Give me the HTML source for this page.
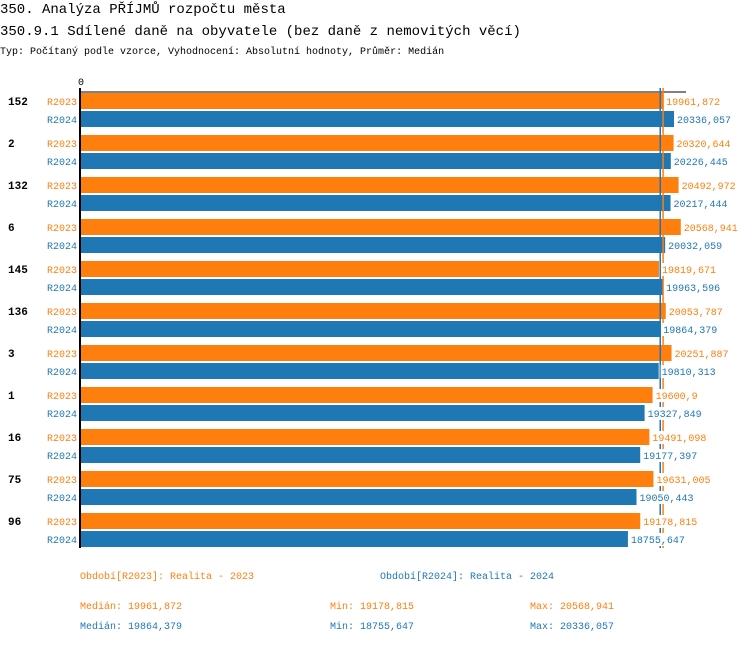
<!DOCTYPE html>
<html><head><meta charset="utf-8">
<style>
body{margin:0;background:#fff;width:750px;height:644px;overflow:hidden;font-family:"Liberation Mono",monospace;}
svg text{font-family:"Liberation Mono",monospace;}
</style></head><body>
<svg id="chart" width="750" height="644" xmlns="http://www.w3.org/2000/svg">
<text x="0" y="13" font-size="14" fill="#000">350. Analýza PŘÍJMŮ rozpočtu města</text>
<text x="0" y="35" font-size="14" fill="#000">350.9.1 Sdílené daně na obyvatele (bez daně z nemovitých věcí)</text>
<text x="0" y="54" font-size="10" fill="#000">Typ: Počítaný podle vzorce, Vyhodnocení: Absolutní hodnoty, Průměr: Medián</text>
<text x="78" y="85" font-size="10" fill="#000">0</text>
<line x1="80" y1="92" x2="686" y2="92" stroke="#000" stroke-width="1"/>
<g id="bars"></g>
<g id="medians"></g>
<g id="labels"></g>
<line x1="80" y1="88" x2="80" y2="548" stroke="#000" stroke-width="2"/>
<g font-size="10">
<text x="80" y="579" fill="#ff7f0e">Období[R2023]: Realita - 2023</text>
<text x="380" y="579" fill="#1f77b4">Období[R2024]: Realita - 2024</text>
<text x="80" y="609" fill="#ff7f0e">Medián: 19961,872</text>
<text x="330" y="609" fill="#ff7f0e">Min: 19178,815</text>
<text x="530" y="609" fill="#ff7f0e">Max: 20568,941</text>
<text x="80" y="629" fill="#1f77b4">Medián: 19864,379</text>
<text x="330" y="629" fill="#1f77b4">Min: 18755,647</text>
<text x="530" y="629" fill="#1f77b4">Max: 20336,057</text>
</g>
</svg>
<script>
const categories=["152","2","132","6","145","136","3","1","16","75","96"];
const values2023=[19961.872,20320.644,20492.972,20568.941,19819.671,20053.787,20251.887,19600.9,19491.098,19631.005,19178.815];
const values2024=[20336.057,20226.445,20217.444,20032.059,19963.596,19864.379,19810.313,19327.849,19177.397,19050.443,18755.647];
const median2023=19961.872, median2024=19864.379;
const NS="http://www.w3.org/2000/svg";
const x0=81, k=593/20336.057;
const xs=v=>x0+v*k;
const fmt=v=>String(v).replace('.',',');
const g=document.getElementById('bars');
const gl=document.getElementById('labels');
function mk(t,a){const e=document.createElementNS(NS,t);for(const n in a)e.setAttribute(n,a[n]);return e;}
categories.forEach((c,i)=>{
  const y=93+i*42;
  const lab=mk('text',{x:8,y:y+12,'font-size':11,'font-weight':'bold',fill:'#000'});
  lab.textContent=c;
  
  
  gl.appendChild(lab);
  [[values2023[i],'#ff7f0e','R2023',0],[values2024[i],'#1f77b4','R2024',18]].forEach(([v,col,s,off])=>{
    const r=mk('rect',{x:x0,y:y+off,width:xs(v)-x0,height:16,fill:col});
    
    
    g.appendChild(r);
    const sl=mk('text',{x:47,y:y+off+12,'font-size':10,fill:col});
    sl.textContent=s;
    
    
    gl.appendChild(sl);
    const bg=mk('rect',{x:xs(v)+2,y:y+off+2,width:fmt(v).length*6+2,height:13,fill:'#fff'});
    
    
    gl.appendChild(bg);
    const vl=mk('text',{x:xs(v)+3,y:y+off+12,'font-size':10,fill:col});
    vl.textContent=fmt(v);
    
    
    gl.appendChild(vl);
  });
});
const m=document.getElementById('medians');
[[median2024,'#1f77b4'],[median2023,'#ff7f0e']].forEach(([v,col])=>{
  const l=mk('line',{x1:xs(v),x2:xs(v),y1:88,y2:548,stroke:col,'stroke-width':1.5});
  
  
  m.appendChild(l);
});
</script>
</body></html>
